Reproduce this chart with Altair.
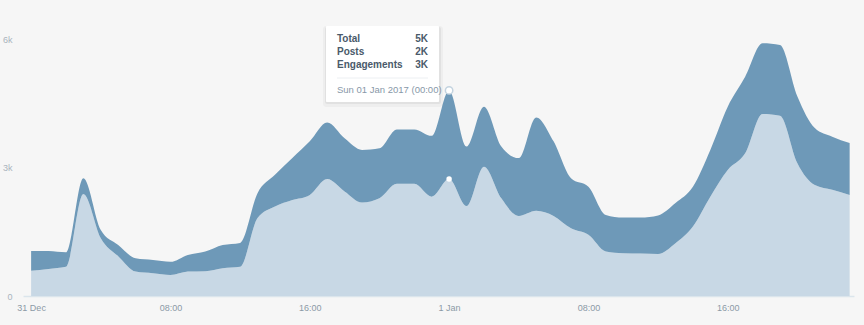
import altair as alt
import pandas as pd

# ---- data (hourly, 31 Dec 2016 00:00 -> 1 Jan 2017 23:00), values in thousands ----
hours = list(range(48))
total = [1.05, 1.05, 1.02, 2.75, 1.54, 1.19, 0.88, 0.84, 0.80, 0.96, 1.04, 1.19,
         1.24, 2.40, 2.83, 3.22, 3.61, 4.05, 3.68, 3.41, 3.45, 3.89, 3.89, 3.74,
         4.80, 3.49, 4.42, 3.49, 3.22, 4.17, 3.61, 2.75, 2.55, 1.89, 1.83, 1.83,
         1.88, 2.17, 2.55, 3.41, 4.42, 5.12, 5.90, 5.86, 4.66, 3.92, 3.72, 3.57]
posts = [0.59, 0.63, 0.68, 2.38, 1.35, 0.93, 0.57, 0.53, 0.49, 0.57, 0.58, 0.65,
         0.68, 1.82, 2.09, 2.24, 2.36, 2.73, 2.44, 2.18, 2.28, 2.62, 2.62, 2.32,
         2.73, 2.10, 3.02, 2.28, 1.87, 1.99, 1.87, 1.58, 1.43, 1.04, 1.00, 0.99,
         0.98, 1.23, 1.62, 2.32, 2.94, 3.33, 4.25, 4.21, 3.10, 2.59, 2.48, 2.36]
series_names = ["Posts", "Engagements"]
series_colors = ["#c8d8e5", "#6e99b8"]

tooltip_labels = ["Total", "Posts", "Engagements"]
tooltip_values = ["5K", "2K", "3K"]
tooltip_date = "Sun 01 Jan 2017 (00:00)"
highlight_hour = 24

y_ticks = [0, 3000, 6000]

# ---- build tables ----
times = pd.date_range("2016-12-31 00:00", periods=48, freq="h")
rows = []
for t, tot, p in zip(times, total, posts):
    rows.append({"time": t, "series": "Posts", "value": p * 1000, "rank": 0})
    rows.append({"time": t, "series": "Engagements", "value": (tot - p) * 1000, "rank": 1})
df = pd.DataFrame(rows)

hl = pd.DataFrame({
    "time": [times[highlight_hour]] * 2,
    "value": [total[highlight_hour] * 1000, posts[highlight_hour] * 1000],
    "kind": ["total", "posts"],
})

x_scale = alt.Scale(domain=[alt.DateTime(year=2016, month=12, date=30, hours=23, minutes=32),
                            alt.DateTime(year=2017, month=1, date=1, hours=23, minutes=15)])
y_scale = alt.Scale(domain=[0, 6000])

tick_vals = [alt.DateTime(year=2016, month=12, date=31, hours=h) for h in (0, 8, 16)] + \
            [alt.DateTime(year=2017, month=1, date=1, hours=h) for h in (0, 8, 16)]

x_enc = alt.X("time:T", scale=x_scale, title=None,
              axis=alt.Axis(values=tick_vals, ticks=False, grid=False,
                            domainColor="#dbe5ec", domainWidth=1.5,
                            labelColor="#8c9aa6", labelFontSize=9, labelPadding=7,
                            labelFont="Liberation Sans",
                            labelExpr="hours(datum.value) == 0 ? timeFormat(datum.value, '%-d %b') : timeFormat(datum.value, '%H:%M')"))
y_enc = alt.Y("value:Q", stack="zero", scale=y_scale, title=None,
              axis=alt.Axis(values=y_ticks, ticks=False, grid=False, domain=False,
                            labelColor="#a9b4bd", labelFontSize=9, labelPadding=11,
                            labelFont="Liberation Sans",
                            labelExpr="datum.value == 0 ? '0' : (datum.value / 1000) + 'k'"))

area = alt.Chart(df).mark_area(interpolate="monotone").encode(
    x=x_enc,
    y=y_enc,
    color=alt.Color("series:N", scale=alt.Scale(domain=series_names, range=series_colors),
                    legend=None),
    order=alt.Order("rank:Q", sort="ascending"),
)

pt_total = alt.Chart(hl[hl.kind == "total"]).mark_point(
    filled=True, fill="#ffffff", stroke="#c3d3df", strokeWidth=1.5, size=55, opacity=1
).encode(x=alt.X("time:T"), y=alt.Y("value:Q"))
pt_posts = alt.Chart(hl[hl.kind == "posts"]).mark_point(
    filled=True, fill="#ffffff", size=30, opacity=1
).encode(x=alt.X("time:T"), y=alt.Y("value:Q"))

# ---- tooltip box (pixel overlay) ----
base_tt = alt.Chart(pd.DataFrame({"a": [0]}))
shadow1 = base_tt.mark_rect(color="#000000", opacity=0.03, cornerRadius=3).encode(
    x=alt.value(300), x2=alt.value(420), y=alt.value(-13), y2=alt.value(68))
shadow2 = base_tt.mark_rect(color="#000000", opacity=0.05, cornerRadius=2).encode(
    x=alt.value(302), x2=alt.value(418), y=alt.value(-12), y2=alt.value(65))
box = base_tt.mark_rect(color="#ffffff", cornerRadius=1).encode(
    x=alt.value(303), x2=alt.value(416), y=alt.value(-13), y2=alt.value(63))
sep = base_tt.mark_rule(color="#eceff2", strokeWidth=1).encode(
    x=alt.value(314), x2=alt.value(405), y=alt.value(39))

tt_layers = []
for i, (lab, val) in enumerate(zip(tooltip_labels, tooltip_values)):
    tt_layers.append(base_tt.mark_text(align="left", baseline="middle", fontSize=10,
                                       fontWeight=600, color="#4a5a6a",
                                       font="Liberation Sans", text=lab).encode(
        x=alt.value(314), y=alt.value(i * 13)))
    tt_layers.append(base_tt.mark_text(align="right", baseline="middle", fontSize=10,
                                       fontWeight=600, color="#4a5a6a",
                                       font="Liberation Sans", text=val).encode(
        x=alt.value(405), y=alt.value(i * 13)))
tt_date = base_tt.mark_text(align="left", baseline="middle", fontSize=9.5,
                            color="#8898a8", font="Liberation Sans", text=tooltip_date).encode(
    x=alt.value(314), y=alt.value(51))

chart = alt.layer(area, pt_total, pt_posts, shadow1, shadow2, box, sep, *tt_layers, tt_date).properties(
    width=831, height=257,
    background="#f6f6f6",
    autosize=alt.AutoSizeParams(type="none"),
    padding={"left": 23, "top": 39, "right": 10, "bottom": 29},
).configure_view(stroke=None)

chart.save("out.html", embed_options={"renderer": "svg", "actions": False})
